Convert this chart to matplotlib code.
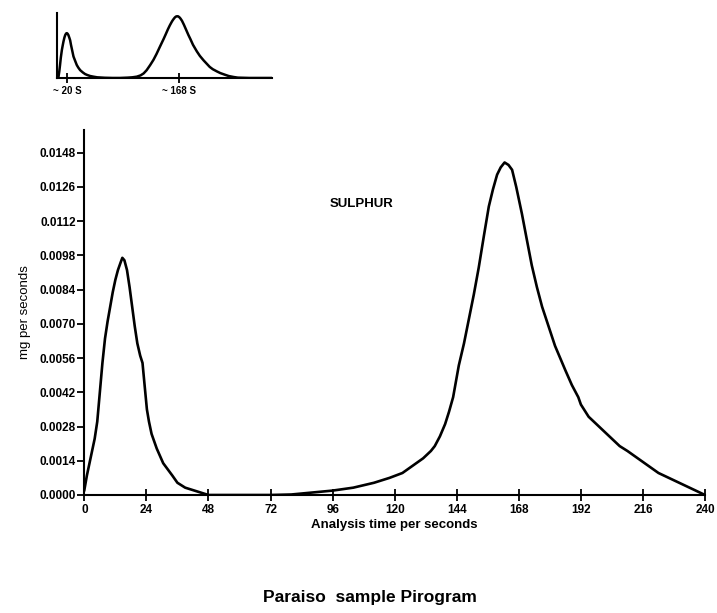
import numpy as np
import matplotlib.pyplot as plt

plt.rcParams['font.family'] = ['Liberation Sans', 'DejaVu Sans']
plt.rcParams['font.weight'] = 'bold'

# main pirogram trace (seconds, mg per second)
time_s = [0, 1, 2, 3, 4, 5, 6, 7, 8, 9, 10, 11, 12, 13, 14, 14.7, 15.5, 16.5, 17.5,
          18.5, 19.5, 20.5, 21.6, 22.5, 23.3, 24.2, 25, 26, 28, 30.5, 34, 36, 39, 42,
          48, 60, 72, 80, 88, 96, 104, 112, 118, 123, 127, 131, 134, 135.5, 137.5,
          139.5, 141, 142.6, 144.8, 146.8, 148.7, 150.6, 152.5, 154.5, 156.4, 158,
          159.6, 161, 162.5, 164, 165.4, 167, 169.2, 171, 173, 175, 177, 179.5, 182,
          184, 186, 188.5, 191, 192, 195, 198, 201, 204, 207, 210, 214, 218, 222, 226,
          230, 234, 237, 240]
mg_s = [0.0002, 0.0008, 0.0013, 0.0018, 0.0023, 0.0030, 0.0042, 0.0054, 0.0064, 0.0071,
        0.0077, 0.0083, 0.0088, 0.0092, 0.0095, 0.0097, 0.0096, 0.0092, 0.0085, 0.0077,
        0.0069, 0.0062, 0.0057, 0.0054, 0.0045, 0.0035, 0.0030, 0.0025, 0.0019, 0.0013,
        0.0008, 0.0005, 0.0003, 0.0002, 0.0, 0.0, 0.0, 0.00002, 0.0001, 0.00018, 0.0003,
        0.0005, 0.0007, 0.0009, 0.0012, 0.0015, 0.0018, 0.0020, 0.0024, 0.0029, 0.0034,
        0.0040, 0.0053, 0.0062, 0.0072, 0.0082, 0.0093, 0.0106, 0.0118, 0.0125, 0.0131,
        0.0134, 0.0136, 0.0135, 0.0133, 0.0126, 0.0115, 0.0105, 0.0094, 0.0085, 0.0077,
        0.0069, 0.0061, 0.0056, 0.0051, 0.0045, 0.0040, 0.0037, 0.0032, 0.0029, 0.0026,
        0.0023, 0.0020, 0.0018, 0.0015, 0.0012, 0.0009, 0.0007, 0.0005, 0.0003, 0.00015,
        0.0]

xticks = [0, 24, 48, 72, 96, 120, 144, 168, 192, 216, 240]
ytick_labels = ['0.0000', '0.0014', '0.0028', '0.0042', '0.0056', '0.0070',
                '0.0084', '0.0098', '0.0112', '0.0126', '0.0148']

# small schematic inset (seconds, relative height)
inset_t = [8, 9, 10, 11, 12, 13.4, 14.5, 15.5, 16.7, 17.8, 19, 20, 21, 22, 23.2, 24.3,
           25.4, 26.5, 27.6, 28.7, 31, 33, 35, 37.5, 41, 44, 47, 50.7, 55, 60, 70, 80,
           90, 100, 106, 112, 117, 121, 125, 129.7, 134, 138, 142, 147.3, 150, 153,
           155.5, 158.3, 160, 162, 163.5, 165, 166.5, 168, 169.5, 171.5, 174, 177,
           180, 182.5, 186, 191, 195, 200, 204, 208, 212, 217.6, 222, 228, 233, 239.5,
           245, 260, 290]
inset_h = [0.0, 0.02, 0.1, 0.2, 0.31, 0.43, 0.5, 0.56, 0.62, 0.66, 0.685, 0.69, 0.68,
           0.66, 0.62, 0.58, 0.51, 0.45, 0.39, 0.33, 0.26, 0.2, 0.16, 0.12, 0.085, 0.06,
           0.045, 0.03, 0.02, 0.01, 0.003, 0.0, 0.0, 0.005, 0.01, 0.02, 0.04, 0.07, 0.12,
           0.2, 0.28, 0.37, 0.47, 0.6, 0.67, 0.75, 0.81, 0.87, 0.9, 0.93, 0.945, 0.95,
           0.948, 0.935, 0.915, 0.88, 0.82, 0.74, 0.66, 0.6, 0.51, 0.41, 0.34, 0.27,
           0.22, 0.17, 0.135, 0.1, 0.075, 0.05, 0.03, 0.015, 0.005, 0.0, 0.0]
inset_ticks = [20, 168]
inset_labels = ['~ 20 S', '~ 168 S']

fig = plt.figure(figsize=(7.17, 6.13), dpi=100)

ax = fig.add_axes([0.1176, 0.1925, 0.8657, 0.5955])
ax.plot(time_s, mg_s, color='black', lw=1.9, solid_joinstyle='round')
ax.set_xlim(0, 240)
ax.set_ylim(0, 0.01493)
ax.set_xticks(xticks)
ax.set_xticklabels([str(t) for t in xticks], fontsize=8.5, fontweight='bold')
ax.set_yticks(np.arange(11) * 0.0014)
ax.set_yticklabels(ytick_labels, fontsize=8.5, fontweight='bold')
ax.tick_params(axis='x', direction='inout', length=9, width=1.3, pad=2)
ax.tick_params(axis='y', direction='out', length=5, width=1.3, pad=1)
for s in ['top', 'right']:
    ax.spines[s].set_visible(False)
for s in ['left', 'bottom']:
    ax.spines[s].set_linewidth(1.5)
ax.set_xlabel('Analysis time per seconds', fontsize=9.5, fontweight='bold', labelpad=2)
ax.set_ylabel('mg per seconds', fontsize=9.5, fontweight='normal', labelpad=6)
ax.text(107, 0.0119, 'SULPHUR', fontsize=9.5, fontweight='bold', ha='center', va='center')

inset = fig.add_axes([0.0795, 0.8728, 0.2999, 0.106])
inset.plot(inset_t, inset_h, color='black', lw=1.8, solid_joinstyle='round')
inset.set_xlim(7, 290)
inset.set_ylim(0, 1)
inset.set_xticks(inset_ticks)
inset.set_xticklabels(inset_labels, fontsize=7, fontweight='bold')
inset.set_yticks([])
inset.tick_params(axis='x', direction='inout', length=7, width=1.3, pad=2)
for s in ['top', 'right']:
    inset.spines[s].set_visible(False)
for s in ['left', 'bottom']:
    inset.spines[s].set_linewidth(1.5)

fig.text(0.516, 0.025, 'Paraiso  sample Pirogram', fontsize=12.5, fontweight='bold',
         ha='center', va='center')

fig.savefig('out.png', dpi=100)
